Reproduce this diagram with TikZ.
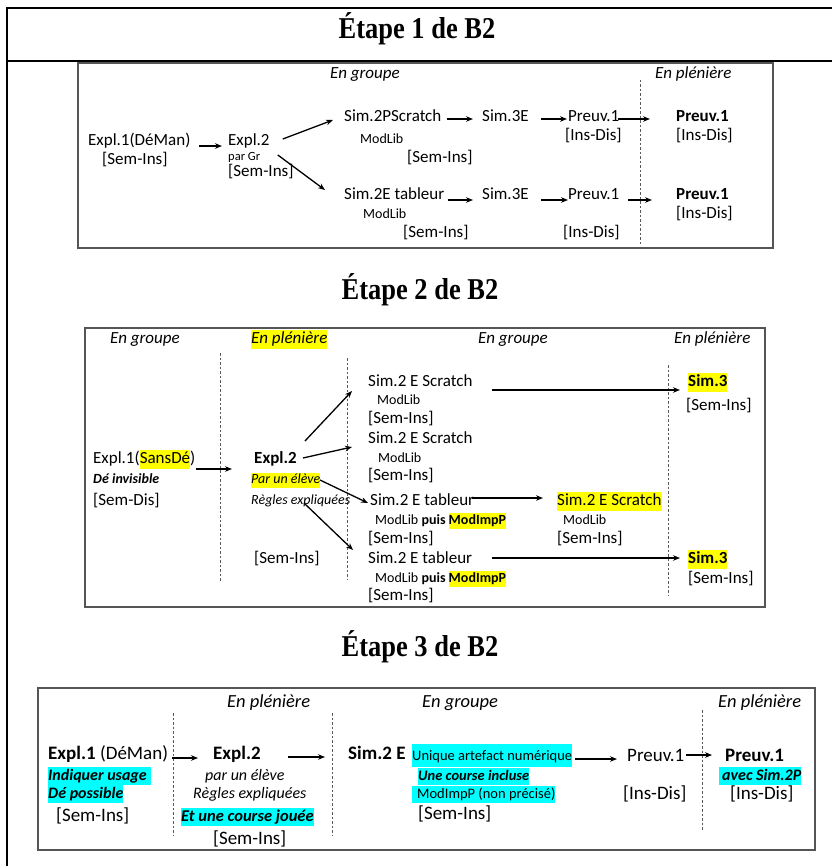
\documentclass[tikz,border=0pt]{standalone}
\usepackage{fontspec}
\setmainfont{Carlito}
\newfontfamily\ttlfont{Liberation Serif}
\usetikzlibrary{arrows.meta,calc}
\definecolor{hlyel}{HTML}{FFFF00}
\definecolor{hlcya}{HTML}{00FFFF}
\definecolor{boxgray}{HTML}{555555}
\newcommand{\fsz}[2]{\fontsize{#1}{#2}\selectfont}
\newcommand{\hly}[1]{{\setlength{\fboxsep}{0pt}\colorbox{hlyel}{\strut #1}}}
\newcommand{\hlc}[1]{{\setlength{\fboxsep}{0pt}\colorbox{hlcya}{\strut #1}}}
\newcommand{\tstretch}[1]{\scalebox{0.98}[1.12]{#1}}
\begin{document}
\begin{tikzpicture}[x=1pt,y=-1pt,
  lb/.style={anchor=base west, inner sep=0pt},
  m17/.style={lb, font=\fsz{17}{19}},
  b17/.style={lb, font=\fsz{17}{19}\bfseries},
  s14/.style={lb, font=\fsz{14}{16}},
  i17/.style={lb, font=\fsz{17}{19}\itshape},
  m19/.style={lb, font=\fsz{19}{21}},
  i185/.style={lb, font=\fsz{18.5}{20}\itshape},
  ttl/.style={anchor=center, inner sep=0pt, font=\ttlfont\fsz{27}{30}\bfseries},
  frame/.style={line width=2.2pt, black},
  panel/.style={draw=boxgray, line width=1.2pt},
  sep/.style={gray!70!black, line width=0.8pt, dash pattern=on 2.5pt off 2pt},
  arr/.style={-{Stealth[length=7pt,width=5.5pt]}, line width=1.3pt, black}
]
\useasboundingbox (0,0) rectangle (832,866);
\fill[white] (0,0) rectangle (832,866);
% outer frame
\draw[frame] (7,8) -- (832,8);
\draw[frame] (7,61) -- (832,61);
\draw[frame] (7,7) -- (7,866);

% titles
\node[ttl] (t1) at (417,29) {\tstretch{Étape 1 de B2}};
\node[ttl] (t2) at (420,290) {\tstretch{Étape 2 de B2}};
\node[ttl] (t3) at (420,647) {\tstretch{Étape 3 de B2}};

% ================= Box 1
\draw[panel] (78,63) rectangle (773,248);
\draw[sep] (640,80) -- (640,246);
\node[i17] (h1a) at (330,79) {En groupe};
\node[i17] (h1b) at (655,79) {En plénière};
\node[m17] (b1e1) at (88,146) {Expl.1(DéMan)};
\node[m17] (b1s1) at (102,165) {[Sem-Ins]};
\node[m17] (b1e2) at (228,146) {Expl.2};
\node[lb, font=\fsz{12.5}{14}] (b1gr) at (228,161) {par Gr};
\node[m17] (b1s2) at (228,177) {[Sem-Ins]};
\node[m17] (b1a) at (344,122) {Sim.2PScratch};
\node[s14] (b1am) at (360,144) {ModLib};
\node[m17] (b1as) at (407,163) {[Sem-Ins]};
\node[m17] (b1b) at (482,122) {Sim.3E};
\node[m17] (b1c) at (568,122) {Preuv.1};
\node[m17] (b1cs) at (565,141) {[Ins-Dis]};
\node[b17] (b1d) at (676,122) {Preuv.1};
\node[m17] (b1ds) at (676,141) {[Ins-Dis]};
\node[m17] (b1f) at (344,200) {Sim.2E tableur};
\node[s14] (b1fm) at (363,219) {ModLib};
\node[m17] (b1fs) at (403,238) {[Sem-Ins]};
\node[m17] (b1g) at (482,200) {Sim.3E};
\node[m17] (b1h) at (568,200) {Preuv.1};
\node[m17] (b1hs) at (563,238) {[Ins-Dis]};
\node[b17] (b1i) at (676,200) {Preuv.1};
\node[m17] (b1is) at (676,219) {[Ins-Dis]};
\draw[arr] ($(b1e1.base east)+(8,0)$) -- ($(b1e2.base west)+(-6,0)$);
\draw[arr] ($(b1e2.base east)+(13,-7)$) -- ($(b1a.base west)+(-11,-2)$);
\draw[arr] ($(b1e2.base east)+(8,9)$) -- ($(b1f.base west)+(-19,-10)$);
\draw[arr] ($(b1a.base east)+(5,-3)$) -- ($(b1b.base west)+(-9,-3)$);
\draw[arr] ($(b1b.base east)+(12,-3)$) -- ($(b1c.base west)+(-1,-3)$);
\draw[arr] ($(b1c.base east)+(-1,-3)$) -- ($(b1d.base west)+(-26,-3)$);
\draw[arr] ($(b1f.base east)+(3,0)$) -- ($(b1g.base west)+(-9,0)$);
\draw[arr] ($(b1g.base east)+(12,0)$) -- ($(b1h.base west)+(0,0)$);
\draw[arr] ($(b1h.base east)+(9,0)$) -- ($(b1i.base west)+(-24,0)$);

% ================= Box 2
\draw[panel] (85,328) rectangle (765,607);
\draw[sep] (220,353) -- (220,582);
\draw[sep] (347,358) -- (347,580);
\draw[sep] (668,365) -- (668,595);
\node[i17] (h2a) at (110,343) {En groupe};
\node[i17] (h2b) at (251,343) {\hly{En plénière}};
\node[i17] (h2c) at (478,343) {En groupe};
\node[i17] (h2d) at (674,343) {En plénière};
\node[m17] (b2e1) at (93,463) {Expl.1(\hly{SansDé})};
\node[lb, font=\fsz{14}{16}\bfseries\itshape] (b2e1d) at (93,483) {Dé invisible};
\node[m17] (b2e1s) at (93,505) {[Sem-Dis]};
\node[b17] (b2e2) at (254,463) {Expl.2};
\node[lb, font=\fsz{14}{15}\itshape] (b2p) at (251,483) {\hly{Par un élève}};
\node[lb, font=\fsz{14}{16}\itshape] (b2r) at (251,504) {Règles expliquées};
\node[m17] (b2s) at (254,563) {[Sem-Ins]};
\node[m17] (b2a) at (368,386) {Sim.2 E Scratch};
\node[s14] (b2am) at (377,404) {ModLib};
\node[m17] (b2as) at (368,423) {[Sem-Ins]};
\node[m17] (b2b) at (368,443) {Sim.2 E Scratch};
\node[s14] (b2bm) at (378,462) {ModLib};
\node[m17] (b2bs) at (368,480) {[Sem-Ins]};
\node[m17] (b2c) at (370,505) {Sim.2 E tableur};
\node[s14] (b2cm) at (375,524) {ModLib \textbf{puis} \hly{\textbf{ModImpP}}};
\node[m17] (b2cs) at (368,543) {[Sem-Ins]};
\node[m17] (b2d) at (557,505) {\hly{Sim.2 E Scratch}};
\node[s14] (b2dm) at (563,524) {ModLib};
\node[m17] (b2ds) at (557,543) {[Sem-Ins]};
\node[m17] (b2e) at (368,563) {Sim.2 E tableur};
\node[s14] (b2em) at (375,582) {ModLib \textbf{puis} \hly{\textbf{ModImpP}}};
\node[m17] (b2es) at (368,600) {[Sem-Ins]};
\node[b17] (b2f) at (688,386) {\hly{Sim.3}};
\node[m17] (b2fs) at (686,410) {[Sem-Ins]};
\node[b17] (b2g) at (688,563) {\hly{Sim.3}};
\node[m17] (b2gs) at (688,583) {[Sem-Ins]};
\draw[arr] ($(b2e1.base east)+(0,6)$) -- ($(b2e2.base west)+(-22,6)$);
\draw[arr] ($(b2e2.base east)+(8,-22)$) -- ($(b2a.base west)+(-16,5)$);
\draw[arr] ($(b2e2.base east)+(6,-5)$) -- ($(b2b.base west)+(-16,4)$);
\draw[arr] ($(b2e2.base east)+(23,17)$) -- ($(b2c.base west)+(-2,-2)$);
\draw[arr] ($(b2e2.base east)+(7,40)$) -- ($(b2e.base west)+(-15,-13)$);
\draw[arr] ($(b2a.base east)+(19,4)$) -- ($(b2f.base west)+(-8,4)$);
\draw[arr] ($(b2c.base east)+(-2,-7)$) -- ($(b2d.base west)+(-14,-7)$);
\draw[arr] ($(b2e.base east)+(20,-5)$) -- ($(b2g.base west)+(-8,-5)$);

% ================= Box 3
\draw[panel] (38,688) rectangle (815,850);
\draw[sep] (173,713) -- (173,835);
\draw[sep] (332,713) -- (332,835);
\draw[sep] (702,710) -- (702,830);
\node[i185] (h3a) at (227,707) {En plénière};
\node[i185] (h3b) at (422,707) {En groupe};
\node[i185] (h3c) at (718,707) {En plénière};
\node[m19] (b3e1) at (48,759) {\textbf{Expl.1} (DéMan)};
\node[lb, font=\fsz{16}{18}\bfseries\itshape] (b3e1a) at (48,780) {\hlc{Indiquer usage\hspace{4pt}}};
\node[lb, font=\fsz{16}{18}\bfseries\itshape] (b3e1b) at (48,798) {\hlc{Dé possible}};
\node[m19] (b3e1s) at (56,821) {[Sem-Ins]};
\node[m19] (b3e2) at (213,759) {\textbf{Expl.2}};
\node[lb, font=\fsz{16}{18}\itshape] (b3p) at (205,780) {par un élève};
\node[lb, font=\fsz{16}{18}\itshape] (b3r) at (193,798) {Règles expliquées};
\node[lb, font=\fsz{16.5}{18}\bfseries\itshape] (b3c) at (181,821) {\hlc{Et une course jouée}};
\node[m19] (b3s) at (213,844) {[Sem-Ins]};
\node[m19] (b3m) at (348,759) {\textbf{Sim.2 E}};
\node[lb, font=\fsz{14.5}{23}] (b3u) at (412,760) {\hlc{Unique artefact numérique}};
\node[lb, font=\fsz{14.5}{17}\bfseries\itshape] (b3v) at (418,780) {\hlc{Une course incluse}};
\node[lb, font=\fsz{14.5}{17}] (b3w) at (412,798) {\hlc{\hspace{5pt}ModImpP (non précisé)}};
\node[m19] (b3ws) at (418,819) {[Sem-Ins]};
\node[m19] (b3p1) at (627,761) {Preuv.1};
\node[m19] (b3p1s) at (623,799) {[Ins-Dis]};
\node[m19] (b3p2) at (725,761) {\textbf{Preuv.1}};
\node[lb, font=\fsz{16}{18}\bfseries\itshape] (b3p2a) at (719,780) {\hlc{\hspace{3pt}avec Sim.2P}};
\node[m19] (b3p2s) at (730,799) {[Ins-Dis]};
\draw[arr] ($(b3e1.base east)+(4,-1)$) -- ($(b3e2.base west)+(-15,-1)$);
\draw[arr] ($(b3e2.base east)+(27,-2)$) -- ($(b3m.base west)+(-23,-2)$);
\draw[arr] ($(b3u.base east)+(3,-1)$) -- ($(b3p1.base west)+(-10,-2)$);
\draw[arr] ($(b3p1.base east)+(2,-6)$) -- ($(b3p2.base west)+(-13,-6)$);
\end{tikzpicture}
\end{document}
